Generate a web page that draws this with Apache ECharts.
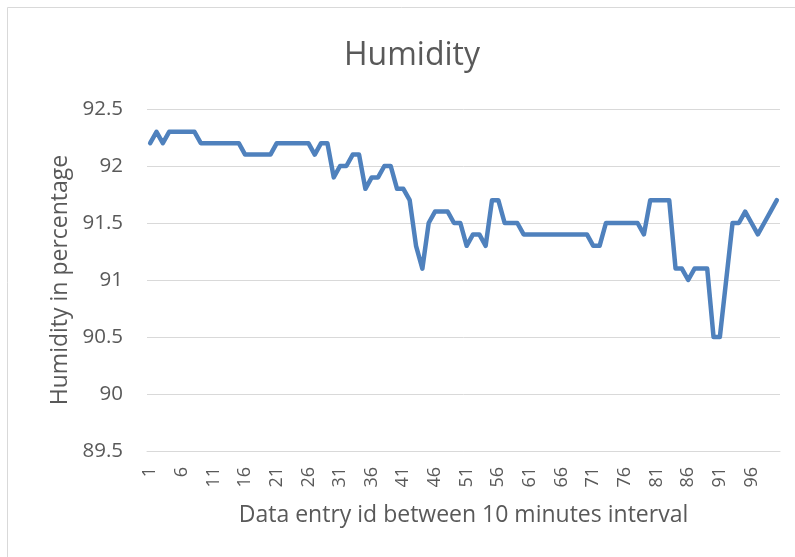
<!DOCTYPE html>
<html>
<head>
<meta charset="utf-8">
<script src="https://cdn.jsdelivr.net/npm/echarts@6/dist/echarts.min.js"></script>
<style>
  html, body { margin: 0; padding: 0; background: #fff; }
  #chart { width: 795px; height: 557px; }
</style>
</head>
<body>
<div id="chart"></div>
<script>
// humidity readings, one every 10 minutes
var humidity = [
  92.2, 92.3, 92.2, 92.3, 92.3, 92.3, 92.3, 92.3, 92.2, 92.2,
  92.2, 92.2, 92.2, 92.2, 92.2, 92.1, 92.1, 92.1, 92.1, 92.1,
  92.2, 92.2, 92.2, 92.2, 92.2, 92.2, 92.1, 92.2, 92.2, 91.9,
  92.0, 92.0, 92.1, 92.1, 91.8, 91.9, 91.9, 92.0, 92.0, 91.8,
  91.8, 91.7, 91.3, 91.1, 91.5, 91.6, 91.6, 91.6, 91.5, 91.5,
  91.3, 91.4, 91.4, 91.3, 91.7, 91.7, 91.5, 91.5, 91.5, 91.4,
  91.4, 91.4, 91.4, 91.4, 91.4, 91.4, 91.4, 91.4, 91.4, 91.4,
  91.3, 91.3, 91.5, 91.5, 91.5, 91.5, 91.5, 91.5, 91.4, 91.7,
  91.7, 91.7, 91.7, 91.1, 91.1, 91.0, 91.1, 91.1, 91.1, 90.5,
  90.5, 91.0, 91.5, 91.5, 91.6, 91.5, 91.4, 91.5, 91.6, 91.7
];
var entryIds = humidity.map(function (v, i) { return String(i + 1); });

var textColor = "#595959";
var font = "Open Sans";

var myChart = echarts.init(document.getElementById("chart"));
var option = {
  backgroundColor: "#fff",
  animation: false,
  title: {
    text: "Humidity",
    left: 339,
    top: 35,
    textStyle: { color: textColor, fontSize: 32, fontWeight: "normal", fontFamily: font }
  },
  graphic: [
    {
      // chart area border
      type: "rect",
      shape: { x: 7.5, y: 7.5, width: 800, height: 560 },
      style: { fill: "none", stroke: "#d9d9d9", lineWidth: 1 }
    }
  ],
  grid: { left: 147, right: 15, top: 109, bottom: 106 },
  xAxis: {
    type: "category",
    data: entryIds,
    boundaryGap: true,
    name: "Data entry id between 10 minutes interval",
    nameLocation: "middle",
    nameGap: 53,
    nameTextStyle: { color: textColor, fontSize: 23, fontFamily: font },
    axisLine: { lineStyle: { color: "#d9d9d9" } },
    axisTick: { show: false },
    axisLabel: {
      interval: 4,
      rotate: 90,
      color: textColor,
      fontSize: 18,
      fontFamily: font,
      margin: 16
    }
  },
  yAxis: {
    type: "value",
    min: 89.5,
    max: 92.5,
    interval: 0.5,
    name: "Humidity in percentage",
    nameLocation: "middle",
    nameGap: 74,
    nameTextStyle: { color: textColor, fontSize: 23, fontFamily: font },
    axisLine: { show: false },
    axisTick: { show: false },
    axisLabel: { color: textColor, fontSize: 20.5, fontFamily: font, margin: 24 },
    splitLine: { lineStyle: { color: "#d9d9d9", width: 1 } }
  },
  series: [
    {
      name: "Humidity",
      type: "line",
      data: humidity,
      showSymbol: false,
      symbol: "none",
      lineStyle: { color: "#4f81bd", width: 4.5, cap: "round", join: "round" }
    }
  ]
};
myChart.setOption(option);
</script>
</body>
</html>
